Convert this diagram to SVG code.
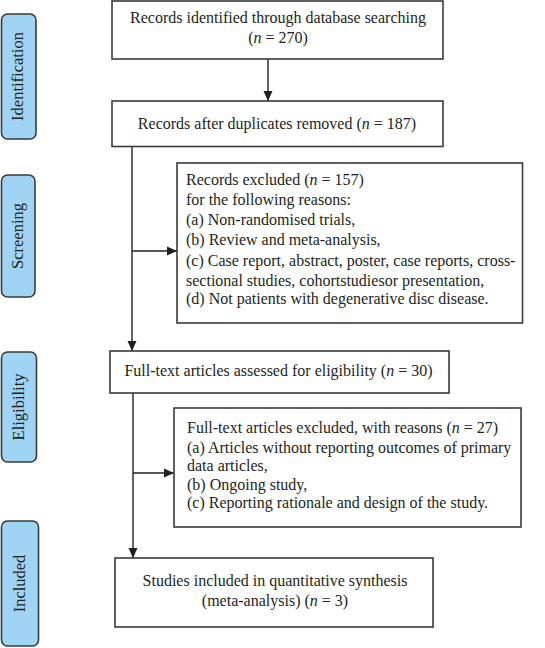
<svg xmlns="http://www.w3.org/2000/svg" width="545" height="648" viewBox="0 0 545 648">
<style>
.box{fill:#fff;stroke:#3a3a3a;stroke-width:1.6}
.side{fill:#9fd4f4;stroke:#3a3a3a;stroke-width:1.6}
text{font-family:"Liberation Serif","Times New Roman",serif;font-size:16px;fill:#231f20}
.c{text-anchor:middle}
.s{font-size:16.5px}
.i{font-style:italic}
.ln{stroke:#231f20;stroke-width:1.4;fill:none}
</style>
<defs>
<marker id="ah" markerWidth="10" markerHeight="10" refX="10" refY="5" orient="auto" markerUnits="userSpaceOnUse">
<path d="M0,0.5 L10,5 L0,9.5 Z" fill="#231f20"/>
</marker>
</defs>
<rect width="545" height="648" fill="#fff"/>
<g id="phase-identification">
<rect class="side" x="1.5" y="14" width="34.5" height="125" rx="6"/>
<text class="c s" transform="translate(17,76.5) rotate(-90)" y="5.5">Identification</text>
</g>
<g id="phase-screening">
<rect class="side" x="1.5" y="175" width="33.5" height="122" rx="6"/>
<text class="c s" transform="translate(17,236) rotate(-90)" y="5.5">Screening</text>
</g>
<g id="phase-eligibility">
<rect class="side" x="1.5" y="352" width="35" height="110" rx="6"/>
<text class="c s" transform="translate(18,407) rotate(-90)" y="5.5">Eligibility</text>
</g>
<g id="phase-included">
<rect class="side" x="1.5" y="521" width="37" height="125" rx="6"/>
<text class="c s" transform="translate(19,583.5) rotate(-90)" y="5.5">Included</text>
</g>
<g id="connectors">
<line class="ln" x1="268" y1="59" x2="268" y2="101" marker-end="url(#ah)"/>
<line class="ln" x1="132" y1="146.5" x2="132" y2="351" marker-end="url(#ah)"/>
<line class="ln" x1="132" y1="251" x2="177" y2="251" marker-end="url(#ah)"/>
<line class="ln" x1="133" y1="393" x2="133" y2="558" marker-end="url(#ah)"/>
<line class="ln" x1="133" y1="473" x2="174" y2="473" marker-end="url(#ah)"/>
</g>
<g id="identified">
<rect class="box" x="112" y="1" width="331" height="58"/>
<text class="c" x="278" y="23">Records identified through database searching</text>
<text class="c" x="278" y="43">(<tspan class="i">n</tspan> = 270)</text>
</g>
<g id="duplicates-removed">
<rect class="box" x="112" y="101" width="331" height="45.5"/>
<text class="c" x="277" y="128.5">Records after duplicates removed (<tspan class="i">n</tspan> = 187)</text>
</g>
<g id="records-excluded">
<rect class="box" x="177" y="163" width="345.5" height="160"/>
<text x="186" y="185">Records excluded (<tspan class="i">n</tspan> = 157)</text>
<text x="186" y="204.5">for the following reasons:</text>
<text x="186" y="224.5">(a) Non-randomised trials,</text>
<text x="186" y="245">(b) Review and meta-analysis,</text>
<text x="186" y="265.5">(c) Case report, abstract, poster, case reports, cross-</text>
<text x="186" y="285.5">sectional studies, cohortstudiesor presentation,</text>
<text x="186" y="304">(d) Not patients with degenerative disc disease.</text>
</g>
<g id="full-text-assessed">
<rect class="box" x="110" y="351" width="339" height="42"/>
<text class="c" x="278.5" y="376">Full-text articles assessed for eligibility (<tspan class="i">n</tspan> = 30)</text>
</g>
<g id="full-text-excluded">
<rect class="box" x="174" y="408" width="347" height="119"/>
<text x="187" y="433">Full-text articles excluded, with reasons (<tspan class="i">n</tspan> = 27)</text>
<text x="187" y="452.5">(a) Articles without reporting outcomes of primary</text>
<text x="187" y="471">data articles,</text>
<text x="187" y="489.5">(b) Ongoing study,</text>
<text x="187" y="508">(c) Reporting rationale and design of the study.</text>
</g>
<g id="included-studies">
<rect class="box" x="115" y="558" width="318" height="69"/>
<text class="c" x="275" y="586">Studies included in quantitative synthesis</text>
<text class="c" x="275" y="606">(meta-analysis) (<tspan class="i">n</tspan> = 3)</text>
</g>
</svg>
